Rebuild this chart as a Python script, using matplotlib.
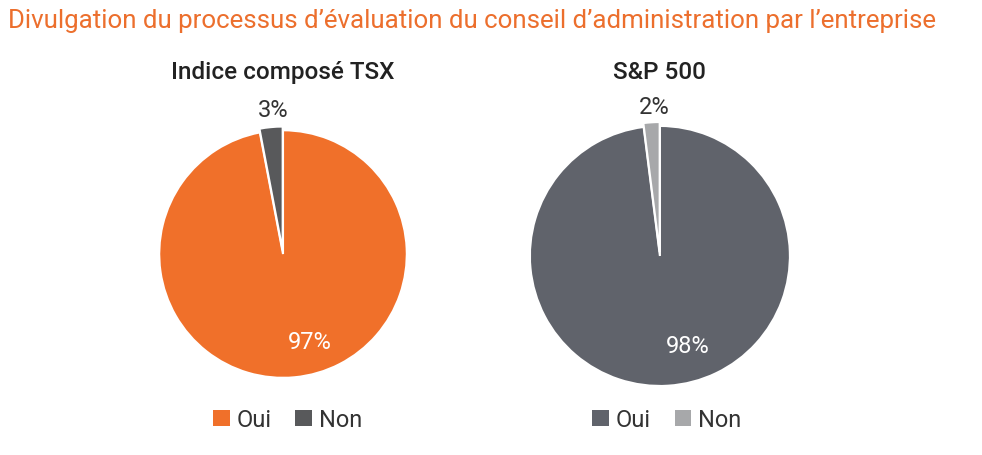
import numpy as np
import matplotlib.pyplot as plt
from matplotlib.patches import Patch

plt.rcParams['font.family'] = ['Roboto', 'DejaVu Sans']

title = "Divulgation du processus d\u2019évaluation du conseil d\u2019administration par l\u2019entreprise"
categories = ['Oui', 'Non']
tsx_values = [97, 3]
sp_values = [98, 2]
tsx_colors = ['#f0702a', '#58595b']
sp_colors = ['#60636b', '#a7a8aa']

fig = plt.figure(figsize=(9.82, 4.56), dpi=100)
fig.text(0.008, 0.955, title, color='#ec6f2d', fontsize=18.6, ha='left', va='center')


def draw_pie(rect, values, colors, name, in_pos, out_pos, legend_x):
    ax = fig.add_axes(rect)
    ax.pie(values, colors=colors, startangle=90, counterclock=False,
           explode=[0, 0.03], radius=1.0,
           wedgeprops=dict(edgecolor='white', linewidth=1.5))
    ax.set_xlim(-1.05, 1.05)
    ax.set_ylim(-1.05, 1.05)
    ax.set_aspect('equal')
    ax.axis('off')
    # percent labels
    r, a = in_pos
    ax.text(r * np.cos(np.radians(a)), r * np.sin(np.radians(a)), f'{values[0]}%',
            color='white', fontsize=17, ha='center', va='center')
    r, a = out_pos
    ax.text(r * np.cos(np.radians(a)), r * np.sin(np.radians(a)), f'{values[1]}%',
            color='#333333', fontsize=17, ha='center', va='center')
    x0 = rect[0] + rect[2] / 2
    fig.text(x0, 0.84, name, fontsize=17.5, color='#222222', ha='center',
             va='center', fontweight='medium')
    handles = [Patch(facecolor=c, edgecolor='none') for c in colors]
    fig.legend(handles, categories, loc='center', bbox_to_anchor=(legend_x, 0.077),
               ncol=2, frameon=False, fontsize=17, handlelength=0.7,
               handleheight=0.7, handletextpad=0.3, columnspacing=1.0,
               labelcolor='#333333')


draw_pie([0.1558, 0.1557, 0.2648, 0.570], tsx_values, tsx_colors,
         'Indice composé TSX', (0.74, -73), (1.17, 94), 0.293)
draw_pie([0.533, 0.137, 0.278, 0.599], sp_values, sp_colors,
         'S&P 500', (0.72, -73), (1.15, 92), 0.679)

fig.savefig('out.png', dpi=100)
